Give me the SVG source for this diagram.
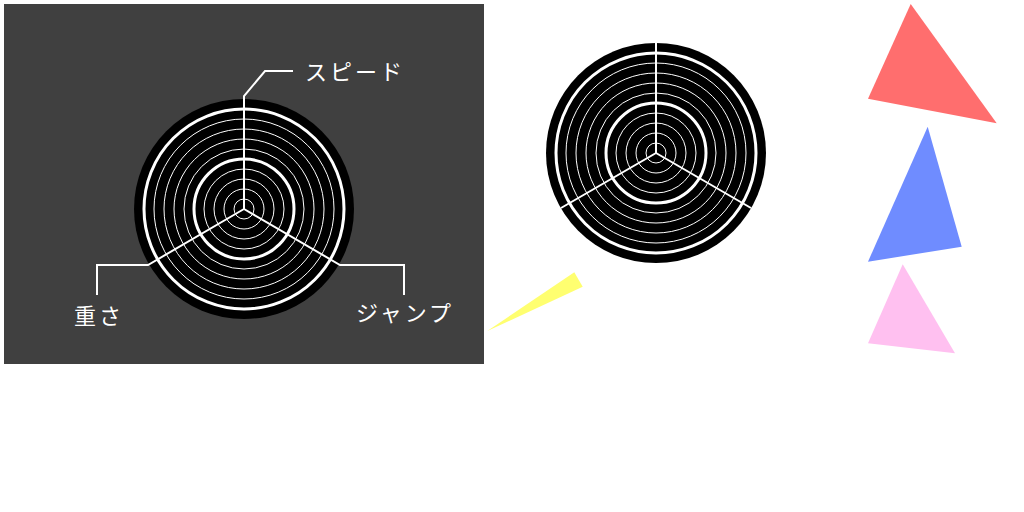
<svg xmlns="http://www.w3.org/2000/svg" width="1024" height="512" viewBox="0 0 1024 512">
<style>
.disc{fill:#000}
.thin{fill:none;stroke:#fff;stroke-width:1}
.thick{fill:none;stroke:#fff;stroke-width:3}
.spoke{fill:none;stroke:#fff;stroke-width:2;stroke-linejoin:miter}
.lbl{font-family:"Noto Sans CJK JP","Noto Sans",sans-serif;font-size:22px;fill:#fff;letter-spacing:3px}
</style>
<defs>
<g id="rings">
<circle class="disc" r="110"/>
<circle class="thin" r="10"/><circle class="thin" r="20"/><circle class="thin" r="30"/><circle class="thin" r="40"/>
<circle class="thick" r="50"/>
<circle class="thin" r="60"/><circle class="thin" r="70"/><circle class="thin" r="80"/><circle class="thin" r="90"/>
<circle class="thick" r="100"/>
</g>
</defs>
<rect x="4" y="4" width="480" height="360" fill="#404040"/>
<g id="chart1">
<use href="#rings" x="244" y="209"/>
</g>
<g id="chart2">
<use href="#rings" x="656" y="153"/>
</g>
<g id="connectors">
<polyline class="spoke" points="244,209 244,96 265,71 293,71"/>
<polyline class="spoke" points="244,209 148,265 97,265 97,295"/>
<polyline class="spoke" points="244,209 340,265 404,265 404,295"/>
<polyline class="spoke" points="656,43 656,153 561,208"/>
<polyline class="spoke" points="656,153 751,208"/>
</g>
<g id="label-speed"><text class="lbl" x="305" y="80">スピード</text></g>
<g id="label-weight"><text class="lbl" x="99" y="324" text-anchor="middle">重さ</text></g>
<g id="label-jump"><text class="lbl" x="405" y="321" text-anchor="middle">ジャンプ</text></g>
<g id="tri-red"><polygon points="910.7,4 996.7,123.3 868,98.7" fill="#ff6e6e"/></g>
<g id="tri-blue"><polygon points="927.7,126.7 961.7,246.7 868,261.7" fill="#6f8cff"/></g>
<g id="tri-pink"><polygon points="902.7,264.3 955,353.3 868,343.3" fill="#ffc0f0"/></g>
<g id="tri-yellow"><polygon points="574.3,272.3 582.7,286.7 487.3,331" fill="#ffff70"/></g>
</svg>
